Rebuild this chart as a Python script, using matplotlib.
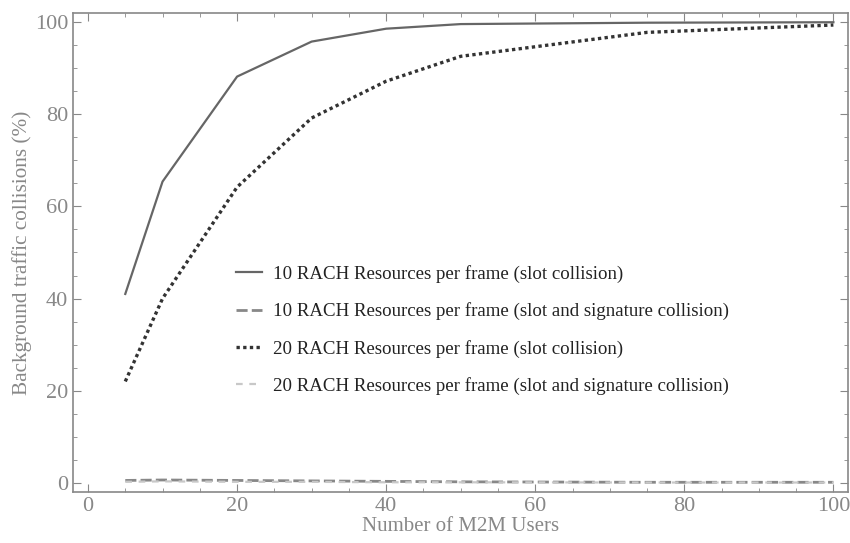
import matplotlib
matplotlib.use("Agg")
import matplotlib.pyplot as plt
from matplotlib.ticker import MultipleLocator

users = [5, 10, 20, 30, 40, 50, 75, 100]
rach10_slot = [41, 65.4, 88.2, 95.8, 98.6, 99.6, 99.9, 100.0]
rach10_slot_sig = [0.5, 0.6, 0.5, 0.4, 0.3, 0.2, 0.1, 0.1]
rach20_slot = [22, 40, 64.2, 79.2, 87.2, 92.6, 97.8, 99.4]
rach20_slot_sig = [0.2, 0.3, 0.2, 0.2, 0.1, 0.1, 0.05, 0.05]

labels = [
    "10 RACH Resources per frame (slot collision)",
    "10 RACH Resources per frame (slot and signature collision)",
    "20 RACH Resources per frame (slot collision)",
    "20 RACH Resources per frame (slot and signature collision)",
]

plt.rcParams['font.family'] = ['Liberation Serif', 'DejaVu Serif']

fig = plt.figure(figsize=(8.5, 5.43), dpi=100)
ax = fig.add_axes([0.086, 0.094, 0.912, 0.882])

ax.plot(users, rach10_slot, color='#666666', lw=1.6, ls='-', label=labels[0])
ax.plot(users, rach10_slot_sig, color='#888888', lw=2.0, ls=(0, (4, 1.5)), label=labels[1])
ax.plot(users, rach20_slot, color='#333333', lw=2.4, ls=(0, (1, 1)), label=labels[2])
ax.plot(users, rach20_slot_sig, color='#c8c8c8', lw=1.6, ls=(0, (3, 3)), label=labels[3])

ax.set_xlim(-2, 102)
ax.set_ylim(-2, 102)
ax.xaxis.set_major_locator(MultipleLocator(20))
ax.yaxis.set_major_locator(MultipleLocator(20))
ax.xaxis.set_minor_locator(MultipleLocator(5))
ax.yaxis.set_minor_locator(MultipleLocator(5))
ax.tick_params(which='both', direction='in', top=True, right=True, color='#888888',
               labelcolor='#888888', labelsize=16)
ax.tick_params(which='major', length=6)
ax.tick_params(which='minor', length=3)
ax.tick_params(axis='x', which='both', labeltop=False)
ax.tick_params(axis='y', which='both', labelright=False)
for s in ax.spines.values():
    s.set_color('#888888')
    s.set_linewidth(1.2)

ax.set_xlabel("Number of M2M Users", color='#888888', fontsize=15, labelpad=1)
ax.set_ylabel("Background traffic collisions (%)", color='#888888', fontsize=15.3, labelpad=2)

leg = ax.legend(loc='upper left', bbox_to_anchor=(0.188, 0.509), frameon=False,
                fontsize=13.6, handlelength=1.4, labelspacing=1.02, handletextpad=0.58)
for t in leg.get_texts():
    t.set_color('#222222')

fig.savefig("out.png", dpi=100)
